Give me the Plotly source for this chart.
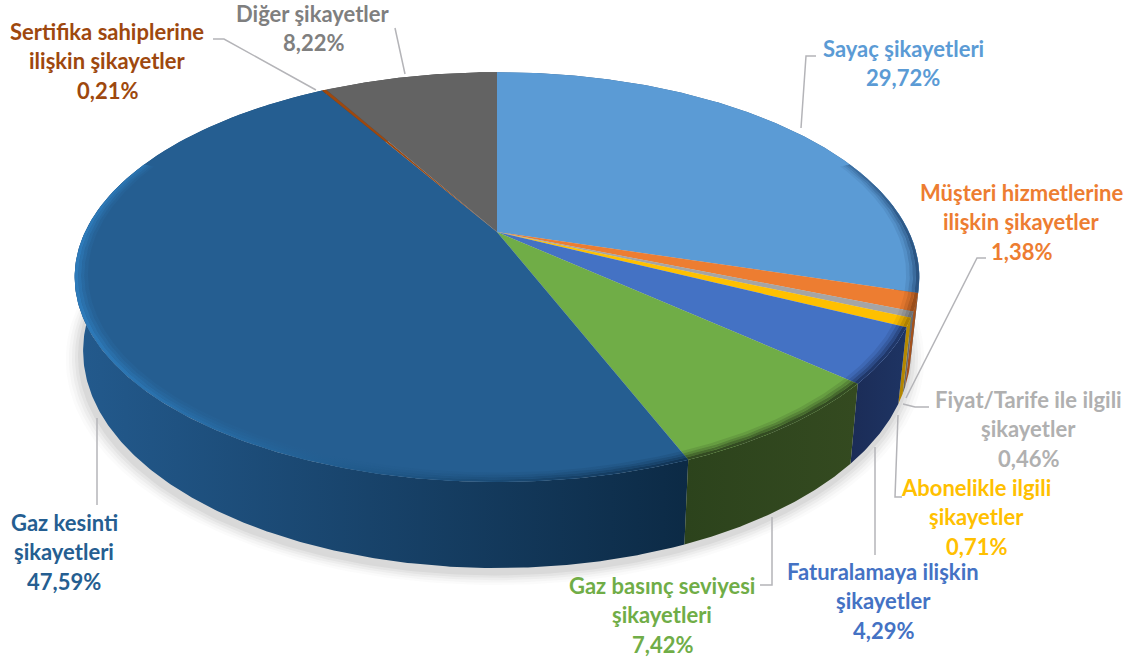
import numpy as np
import plotly.graph_objects as go

# ---- data ----
categories = ["Sayaç şikayetleri", "Müşteri hizmetlerine ilişkin şikayetler",
              "Fiyat/Tarife ile ilgili şikayetler", "Abonelikle ilgili şikayetler",
              "Faturalamaya ilişkin şikayetler", "Gaz basınç seviyesi şikayetleri",
              "Gaz kesinti şikayetleri", "Sertifika sahiplerine ilişkin şikayetler",
              "Diğer şikayetler"]
values = [29.72, 1.38, 0.46, 0.71, 4.29, 7.42, 47.59, 0.21, 8.22]
value_labels = ["29,72%", "1,38%", "0,46%", "0,71%", "4,29%", "7,42%", "47,59%", "0,21%", "8,22%"]
label_lines = [["Sayaç şikayetleri"], ["Müşteri hizmetlerine", "ilişkin şikayetler"],
               ["Fiyat/Tarife ile ilgili", "şikayetler"], ["Abonelikle ilgili", "şikayetler"],
               ["Faturalamaya ilişkin", "şikayetler"], ["Gaz basınç seviyesi", "şikayetleri"],
               ["Gaz kesinti", "şikayetleri"], ["Sertifika sahiplerine", "ilişkin şikayetler"],
               ["Diğer şikayetler"]]
top_colors = ["#5B9BD5", "#ED7D31", "#A5A5A5", "#FFC000", "#4472C4", "#70AD47", "#255E91", "#9E480E", "#636363"]
label_colors = ["#5B9BD5", "#ED7D31", "#B0B0B0", "#FFC000", "#4472C4", "#70AD47", "#255E91", "#9E480E", "#7F7F7F"]
wall_left = ["#3D6E9C", "#A8551E", "#6F6F6F", "#B98A00", "#1E3463", "#344A20", "#235A8D", "#6B300A", "#444444"]
wall_right = ["#2E5A85", "#A04E1A", "#666666", "#B08400", "#1B2C57", "#2C431C", "#0C2A45", "#6B300A", "#444444"]
# rim shading: colour at the left and at the right end of each slice's rim (r, g, b)
rim_left = [(60, 110, 160), (150, 75, 25), (110, 110, 110), (170, 125, 0), (30, 52, 100), (48, 70, 32), (46, 124, 188), (107, 48, 10), (68, 68, 68)]
rim_right = [(40, 80, 125), (150, 75, 25), (110, 110, 110), (170, 125, 0), (30, 52, 100), (48, 70, 32), (16, 50, 82), (107, 48, 10), (68, 68, 68)]
label_anchor = [(903, 48), (1021, 192), (1028, 399), (976, 487), (883, 571), (662, 585), (64, 522), (107, 31), (313, 13)]
leaders = [[(816, 56), (806, 56), (801, 128)], [(986, 258), (977, 258), (906, 398)],
           [(929, 407), (915, 407), (903, 404)], [(898, 415), (895, 497), (902, 497)],
           [(875, 447), (875, 555)], [(772, 517), (772, 585), (760, 585)],
           [(97, 418), (97, 505)], [(213, 39), (224, 39), (316, 90)], [(395, 28), (405, 74)]]

# ---- projection of the disc (perspective view) ----
CX, CY, A, B, P = 497, 232, 412, 195, 0.22
DEPTH, SHRINK = 71, 0.98


def top(theta, r=1.0):
    u, v = r * np.sin(theta), r * np.cos(theta)
    w = 1 + P * v
    return CX + A * u / w, CY - B * v / w


def bottom(theta, r=1.0):
    u, v = r * np.sin(theta), r * np.cos(theta)
    w = 1 + P * v
    return CX + SHRINK * A * u / w, CY + (DEPTH - SHRINK * B * v) / w


def arc(a0, a1):
    return np.linspace(a0, a1, max(3, int(abs(a1 - a0) * 120)))


fig = go.Figure()


def poly(x, y, color=None, gradient=None):
    tr = dict(x=list(x), y=list(y), mode="lines", line=dict(width=0), fill="toself",
              hoverinfo="skip", showlegend=False)
    if gradient:
        tr["fillgradient"] = dict(type="horizontal", colorscale=[[0, gradient[0]], [1, gradient[1]]])
        tr["fillcolor"] = gradient[0]
    else:
        tr["fillcolor"] = color
    fig.add_trace(go.Scatter(**tr))


edges = 2 * np.pi * np.concatenate([[0], np.cumsum(values)]) / np.sum(values)
full = np.linspace(0, 2 * np.pi, 361)

# soft shadow under the body
for k, alpha in zip([1.035, 1.028, 1.021, 1.014, 1.007], [0.025, 0.035, 0.05, 0.06, 0.08]):
    sx, sy = bottom(full, k)
    poly(sx - 2, sy + 5, color=f"rgba(90,90,90,{alpha})")

# outer wall, back to front
order = sorted(range(len(values)), key=lambda i: np.cos((edges[i] + edges[i + 1]) / 2), reverse=True)
for i in order:
    t = arc(edges[i], edges[i + 1])
    x0, y0 = top(t)
    x1, y1 = bottom(t)
    poly(np.r_[x0, x1[::-1], x0[0]], np.r_[y0, y1[::-1], y0[0]],
         gradient=(wall_right[i], wall_left[i]) if i < 6 else (wall_left[i], wall_right[i]))

# top faces
for i in range(len(values)):
    t = arc(edges[i], edges[i + 1])
    x, y = top(t)
    poly(np.r_[CX, x, CX], np.r_[CY, y, CY], color=top_colors[i])

# bevelled rim: concentric translucent bands, only on the near side of the disc
RIM_START = np.radians(68)
RIM_END = np.radians(292)
for i in range(len(values)):
    a0, a1 = max(edges[i], RIM_START), min(edges[i + 1], RIM_END)
    if a1 <= a0:
        continue
    t = arc(a0, a1)
    for r0, r1, al in [(1.0, 0.992, 0.95), (0.992, 0.985, 0.65), (0.985, 0.978, 0.38), (0.978, 0.97, 0.16)]:
        x0, y0 = top(t, r0)
        x1, y1 = top(t, r1)
        cl, cr = rim_left[i], rim_right[i]
        poly(np.r_[x0, x1[::-1], x0[0]], np.r_[y0, y1[::-1], y0[0]],
             gradient=(f"rgba({cl[0]},{cl[1]},{cl[2]},{al})", f"rgba({cr[0]},{cr[1]},{cr[2]},{al})"))

# leader lines
for pts in leaders:
    fig.add_trace(go.Scatter(x=[p[0] for p in pts], y=[p[1] for p in pts], mode="lines",
                             line=dict(color="#B4B4B8", width=1.5), hoverinfo="skip", showlegend=False))

# labels
LINE_H = 29.5
for name, val, col, (ax, ay) in zip(label_lines, value_labels, label_colors, label_anchor):
    for j, txt in enumerate(name + [val]):
        fig.add_annotation(x=ax, y=ay + j * LINE_H, text=f"<b>{txt}</b>", showarrow=False,
                           xanchor="center", yanchor="middle",
                           font=dict(family="Lato, Carlito, sans-serif", size=22, color=col))

fig.update_layout(width=1133, height=661, margin=dict(l=0, r=0, t=0, b=0),
                  paper_bgcolor="white", plot_bgcolor="white", showlegend=False,
                  xaxis=dict(range=[0, 1133], visible=False, fixedrange=True),
                  yaxis=dict(range=[661, 0], visible=False, fixedrange=True))
fig.write_html("out.html", config={"displayModeBar": False},
               post_script="document.body.style.margin='0';document.body.style.overflow='hidden';")
